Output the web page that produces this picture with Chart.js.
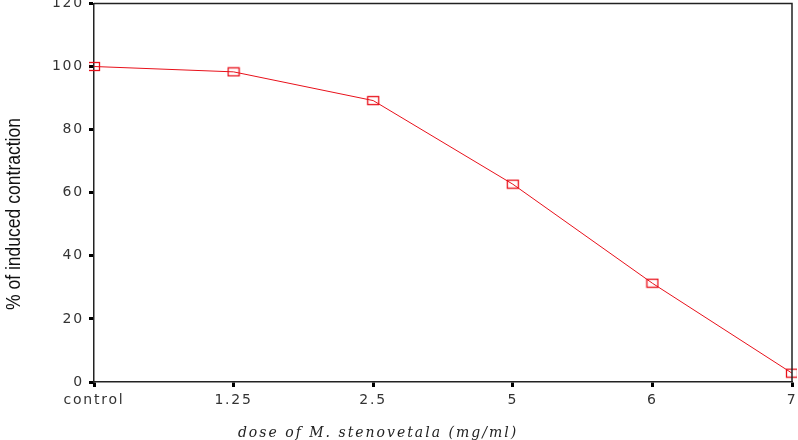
<!DOCTYPE html>
<html><head><meta charset="utf-8">
<script src="https://cdn.jsdelivr.net/npm/chart.js@4/dist/chart.umd.min.js"></script>
<style>html,body{margin:0;padding:0;background:#fff;overflow:hidden}#wrap{width:798px;height:440px;position:relative;overflow:hidden}#c{position:absolute;left:0;top:-10px}</style>
</head><body><div id="wrap"><canvas id="c" width="798" height="450"></canvas></div>
<script>
const categories = ['control', '1.25', '2.5', '5', '6', '7'];
const contraction = [100, 98.3, 89.2, 62.7, 31.3, 2.8];
const yTicks = [0, 20, 40, 60, 80, 100, 120];
const yTitle = '% of induced contraction';
const xTitle = 'dose of M. stenovetala (mg/ml)';

// marker: open red rectangle
const mk = document.createElement('canvas');
mk.width = 14; mk.height = 11;
const mctx = mk.getContext('2d');
mctx.strokeStyle = '#e8101a'; mctx.lineWidth = 1.3;
mctx.strokeRect(1.5, 1.5, 11, 8);

const frame = {
  id: 'frame',
  beforeDraw(chart) {
    chart.ctx.letterSpacing = '1.8px';
  },
  afterDraw(chart) {
    const {ctx, chartArea: a} = chart;
    ctx.save();
    ctx.letterSpacing = '0px';
    ctx.strokeStyle = '#222'; ctx.lineWidth = 1.5;
    ctx.beginPath();
    ctx.moveTo(a.left, a.top); ctx.lineTo(a.right, a.top); ctx.lineTo(a.right, a.bottom);
    ctx.stroke();
    // x-axis title
    ctx.letterSpacing = '2px';
    ctx.font = 'italic 14px "DejaVu Serif"';
    ctx.fillStyle = '#222';
    ctx.textAlign = 'center'; ctx.textBaseline = 'middle';
    ctx.fillText(xTitle, 378, 443);
    // y-axis title, condensed
    ctx.letterSpacing = '0px';
    ctx.font = '20px "Liberation Sans"';
    ctx.fillStyle = '#111';
    const w = ctx.measureText(yTitle).width;
    ctx.translate(14, 224);
    ctx.rotate(-Math.PI / 2);
    ctx.scale(192 / w, 1);
    ctx.fillText(yTitle, 0, 0);
    ctx.restore();
  }
};

new Chart(document.getElementById('c'), {
  type: 'line',
  data: {
    labels: categories,
    datasets: [{
      data: contraction,
      borderColor: '#e8101a',
      borderWidth: 1,
      pointStyle: mk,
      tension: 0,
      fill: false
    }]
  },
  options: {
    responsive: false,
    animation: false,
    layout: {padding: {top: 0, right: 0, left: 0, bottom: 0}},
    plugins: {legend: {display: false}, tooltip: {enabled: false}},
    scales: {
      x: {
        offset: false,
        grid: {drawOnChartArea: false, tickLength: 5, tickWidth: 3, tickColor: '#000'},
        border: {color: '#222', width: 1.5},
        ticks: {color: '#333', font: {family: 'DejaVu Sans', size: 14}, padding: 5, maxRotation: 0, autoSkip: false},
        title: {display: false},
        afterFit(s) { s.height = 58; s.paddingRight = 6; s.paddingLeft = 0; }
      },
      y: {
        min: 0, max: 120,
        afterBuildTicks(s) { s.ticks = yTicks.map(v => ({value: v})); },
        grid: {drawOnChartArea: false, tickLength: 5, tickWidth: 3, tickColor: '#000'},
        border: {color: '#222', width: 1.5},
        ticks: {color: '#333', font: {family: 'DejaVu Sans', size: 14}, padding: 5},
        title: {display: false},
        afterFit(s) { s.width = 94; }
      }
    }
  },
  plugins: [frame]
});
</script></body></html>
